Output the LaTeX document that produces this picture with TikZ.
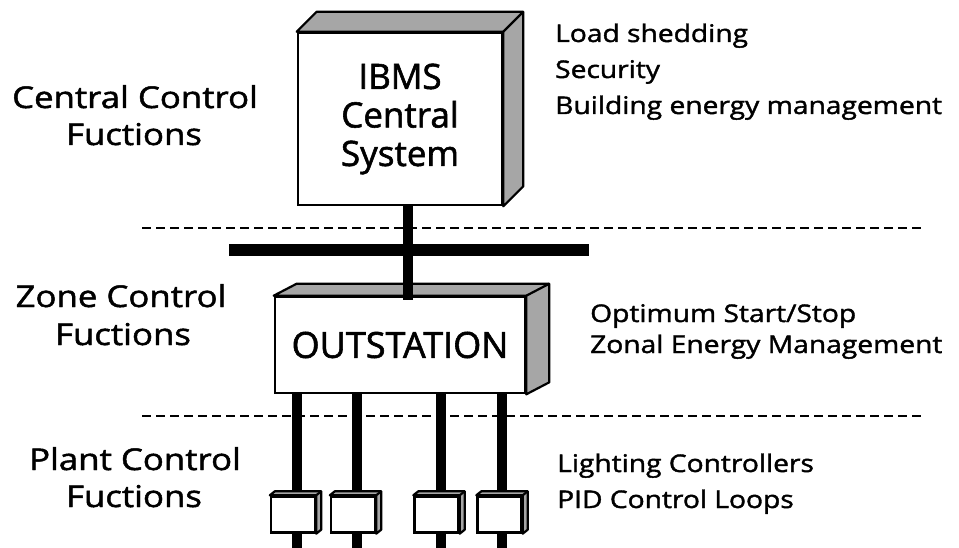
\documentclass[tikz,border=0pt]{standalone}
\usepackage{fontspec}
\setmainfont{Open Sans}[FakeStretch=1.16, FakeBold=1.6]
\newfontfamily\boxfont{Open Sans}[FakeBold=1.6]
\newcommand\depthfaces[3]{%
  \filldraw[depthface] (#1.north west) -- ++(#2,-#3) -- ([shift={(#2,-#3)}]#1.north east) -- ([shift={(#2,-#3)}]#1.south east) -- (#1.south east) -- (#1.north east) -- cycle;
  \draw[depthedge] (#1.north east) -- ++(#2,-#3);
}
\begin{document}
\begin{tikzpicture}[x=1pt,y=-1pt,
  face/.style={draw=black, line width=2.6pt, fill=white, inner sep=0pt},
  ctrl/.style={draw=black, line width=2.4pt, fill=white, inner sep=0pt, minimum width=44pt, minimum height=36pt},
  depthface/.style={draw=black, line width=2.2pt, fill=black!35, line join=round},
  depthedge/.style={draw=black, line width=2.2pt},
  riser/.style={line width=10pt, black},
  busbar/.style={line width=12pt, black},
  divider/.style={line width=2.8pt, dash pattern=on 9pt off 5pt},
  lbl/.style={font=\fontsize{30}{36}\selectfont, anchor=base, inner sep=0pt},
  note/.style={font=\fontsize{24.3}{30}\selectfont, anchor=base west, inner sep=0pt}
]
\useasboundingbox (0,0) rectangle (959,548);

% level dividers
\coordinate (d1l) at (142,228); \coordinate (d1r) at (925,228);
\coordinate (d2l) at (142,416); \coordinate (d2r) at (925,416);
\draw[divider] (d1l) -- (d1r);
\draw[divider] (d2l) -- (d2r);

% coordinates for risers and bus
\coordinate (l1) at (297,548);
\coordinate (l2) at (357,548);
\coordinate (l3) at (441,548);
\coordinate (l4) at (502,548);
\coordinate (cx) at (408,250);
\coordinate (busL) at (229,250);
\coordinate (busR) at (589,250);

% nodes (boxes)
\node[face, minimum width=204pt, minimum height=172pt, align=center,
      font=\boxfont\fontsize{35}{38.5}\selectfont] (ibms) at (400,119) {IBMS\\Central\\System};
\node[face, minimum width=250pt, minimum height=96pt,
      font=\boxfont\fontsize{36}{40}\selectfont] (out) at (400,345) {OUTSTATION};
\depthfaces{ibms}{20}{20}
\depthfaces{out}{23}{12}

% risers to plant controllers
\draw[riser] (out.south -| l1) -- (l1);
\draw[riser] (out.south -| l2) -- (l2);
\draw[riser] (out.south -| l3) -- (l3);
\draw[riser] (out.south -| l4) -- (l4);

\node[ctrl] (c1) at (293,514.5) {};
\node[ctrl] (c2) at (353,514.5) {};
\node[ctrl] (c3) at (436.5,514.5) {};
\node[ctrl] (c4) at (499.5,514.5) {};
\depthfaces{c1}{5}{4}
\depthfaces{c2}{5}{4}
\depthfaces{c3}{5}{4}
\depthfaces{c4}{5}{4}

% bus and central connector
\draw[busbar] (busL) -- (busR);
\draw[riser, shorten >=-4pt] (ibms.south -| cx) -- (cx |- out.north);

% level labels
\node[lbl] (lc1) at (135,108) {Central Control};
\node[lbl] (lc2) at (134,145) {Fuctions};
\node[lbl] (lz1) at (121,307) {Zone Control};
\node[lbl] (lz2) at (123,345) {Fuctions};
\node[lbl] (lp1) at (135,470) {Plant Control};
\node[lbl] (lp2) at (134,507) {Fuctions};

% function notes
\node[note] (n1) at (555,42) {Load shedding};
\node[note] (n2) at (555,78) {Security};
\node[note] (n3) at (555,114) {Building energy management};
\node[note] (n4) at (590,322) {Optimum Start/Stop};
\node[note] (n5) at (590,353) {Zonal Energy Management};
\node[note] (n6) at (557,472) {Lighting Controllers};
\node[note] (n7) at (557,508) {PID Control Loops};
\end{tikzpicture}
\end{document}
